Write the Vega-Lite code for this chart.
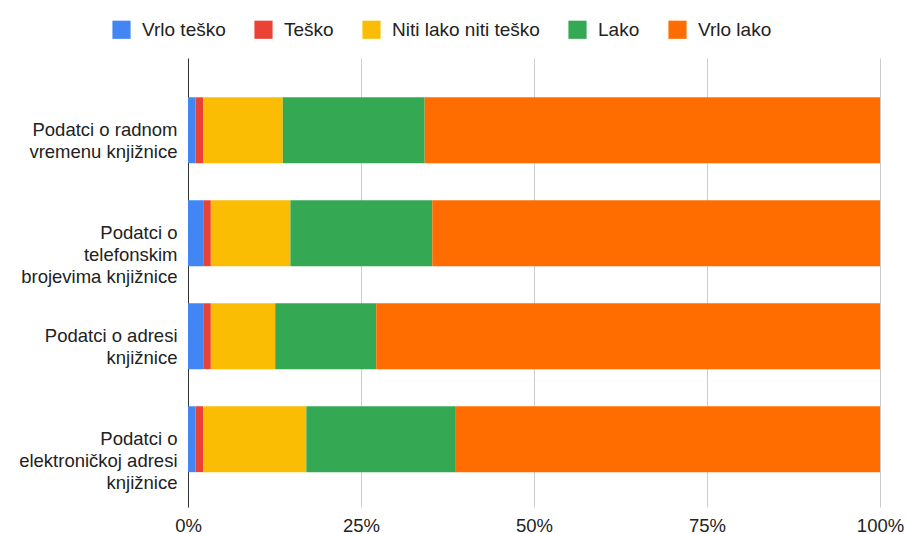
{
  "$schema": "https://vega.github.io/schema/vega-lite/v6.json",
  "width": 692,
  "height": 449,
  "autosize": {"type": "none"},
  "padding": {"left": 188, "top": 58, "right": 26, "bottom": 27},
  "background": "white",
  "config": {
    "view": {"stroke": null},
    "font": "Liberation Sans",
    "axis": {"labelFont": "Liberation Sans", "labelColor": "#222222", "labelFontSize": 18.5},
    "legend": {"labelFont": "Liberation Sans", "labelColor": "#222222", "labelFontSize": 19}
  },
  "data": {
    "values": [
      {"q": "Podatci o radnom|vremenu knjižnice", "r": "Vrlo teško", "o": 1, "v": 1.1},
      {"q": "Podatci o radnom|vremenu knjižnice", "r": "Teško", "o": 2, "v": 1.1},
      {"q": "Podatci o radnom|vremenu knjižnice", "r": "Niti lako niti teško", "o": 3, "v": 11.5},
      {"q": "Podatci o radnom|vremenu knjižnice", "r": "Lako", "o": 4, "v": 20.5},
      {"q": "Podatci o radnom|vremenu knjižnice", "r": "Vrlo lako", "o": 5, "v": 65.8},
      {"q": "Podatci o|telefonskim|brojevima knjižnice", "r": "Vrlo teško", "o": 1, "v": 2.2},
      {"q": "Podatci o|telefonskim|brojevima knjižnice", "r": "Teško", "o": 2, "v": 1.1},
      {"q": "Podatci o|telefonskim|brojevima knjižnice", "r": "Niti lako niti teško", "o": 3, "v": 11.5},
      {"q": "Podatci o|telefonskim|brojevima knjižnice", "r": "Lako", "o": 4, "v": 20.5},
      {"q": "Podatci o|telefonskim|brojevima knjižnice", "r": "Vrlo lako", "o": 5, "v": 64.7},
      {"q": "Podatci o adresi|knjižnice", "r": "Vrlo teško", "o": 1, "v": 2.2},
      {"q": "Podatci o adresi|knjižnice", "r": "Teško", "o": 2, "v": 1.1},
      {"q": "Podatci o adresi|knjižnice", "r": "Niti lako niti teško", "o": 3, "v": 9.3},
      {"q": "Podatci o adresi|knjižnice", "r": "Lako", "o": 4, "v": 14.6},
      {"q": "Podatci o adresi|knjižnice", "r": "Vrlo lako", "o": 5, "v": 72.8},
      {"q": "Podatci o|elektroničkoj adresi|knjižnice", "r": "Vrlo teško", "o": 1, "v": 1.1},
      {"q": "Podatci o|elektroničkoj adresi|knjižnice", "r": "Teško", "o": 2, "v": 1.1},
      {"q": "Podatci o|elektroničkoj adresi|knjižnice", "r": "Niti lako niti teško", "o": 3, "v": 14.9},
      {"q": "Podatci o|elektroničkoj adresi|knjižnice", "r": "Lako", "o": 4, "v": 21.6},
      {"q": "Podatci o|elektroničkoj adresi|knjižnice", "r": "Vrlo lako", "o": 5, "v": 61.3}
    ]
  },
  "mark": {"type": "bar"},
  "encoding": {
    "y": {
      "field": "q",
      "type": "nominal",
      "sort": null,
      "scale": {"paddingInner": 0.36, "paddingOuter": 0.36, "align": 0.53},
      "axis": {
        "title": null,
        "labelExpr": "split(datum.label, '|')",
        "labelLineHeight": 22,
        "labelPadding": 11,
        "ticks": false,
        "domainColor": "#333333",
        "domainWidth": 1,
        "labelLimit": 300
      }
    },
    "x": {
      "field": "v",
      "type": "quantitative",
      "stack": "normalize",
      "scale": {"domain": [0, 1], "nice": false},
      "axis": {
        "title": null,
        "format": ".0%",
        "values": [0, 0.25, 0.5, 0.75, 1],
        "domain": false,
        "ticks": false,
        "gridColor": "#cccccc",
        "labelPadding": 9,
        "labelFlush": false
      }
    },
    "color": {
      "field": "r",
      "type": "nominal",
      "scale": {
        "domain": ["Vrlo teško", "Teško", "Niti lako niti teško", "Lako", "Vrlo lako"],
        "range": ["#4285F4", "#EA4335", "#FBBC04", "#34A853", "#FF6D01"]
      },
      "legend": {
        "title": null,
        "orient": "none",
        "direction": "horizontal",
        "legendX": -76,
        "legendY": -38,
        "symbolType": "square",
        "symbolSize": 330,
        "symbolStrokeWidth": 0,
        "symbolOpacity": 1,
        "labelOffset": 11,
        "columnPadding": 28
      }
    },
    "order": {"field": "o", "type": "quantitative"}
  }
}
